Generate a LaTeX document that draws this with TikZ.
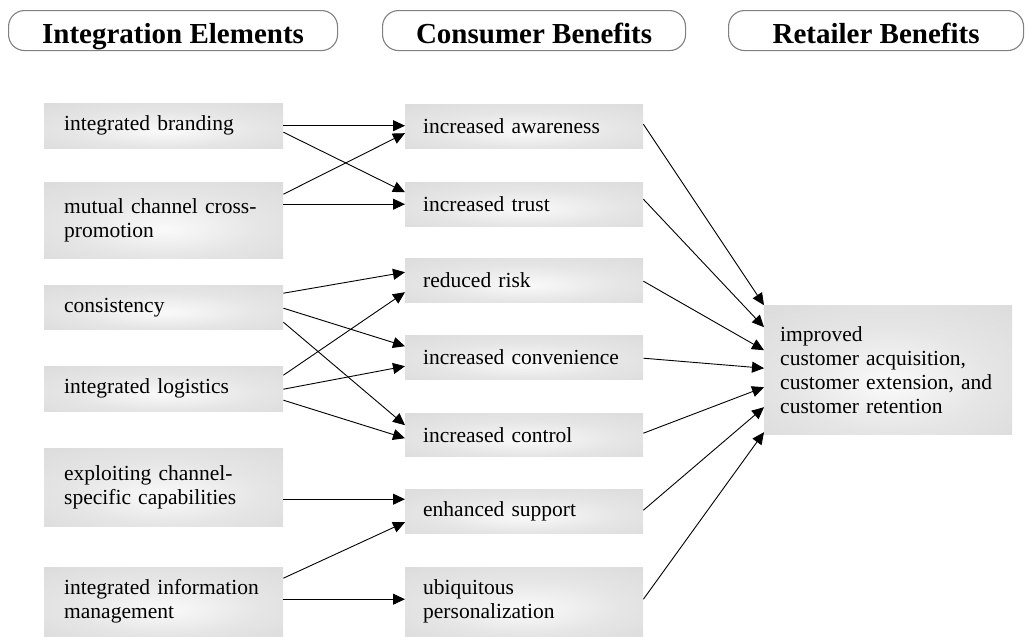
\documentclass[tikz,border=0pt]{standalone}
\usepackage{fontspec}
\setmainfont{Liberation Serif}
\usetikzlibrary{arrows.meta}
\pgfdeclareradialshading{boxglow}{\pgfpoint{0bp}{-6bp}}{color(0bp)=(black!2); color(20bp)=(black!10); color(38bp)=(black!14); color(50bp)=(black!14)}
\begin{document}
\begin{tikzpicture}[x=1pt,y=-1pt,
  pill/.style={draw=black!50, line width=1.1pt, rounded corners=16pt, minimum height=40pt, inner sep=0pt,
    anchor=north west, font=\fontsize{29pt}{34pt}\selectfont\bfseries, text height=28pt, text depth=2pt},
  box/.style={shading=boxglow, anchor=north west, inner ysep=0pt, align=left,
    font=\fontsize{21.5pt}{24pt}\selectfont},
  lbox/.style={box, inner xsep=20pt, text width=199pt},
  mbox/.style={box, inner xsep=18pt, text width=202pt},
  rbox/.style={box, inner xsep=16pt, text width=216pt},
  arr/.style={-{Triangle[length=12pt,width=11pt]}, line width=0.9pt, black}
]
\useasboundingbox (0,0) rectangle (1026,637);

% headers
\node[pill, minimum width=329pt] (H1) at (8,10) {Integration Elements};
\node[pill, minimum width=303pt] (H2) at (382,10) {Consumer Benefits};
\node[pill, minimum width=295pt] (H3) at (728,10) {Retailer Benefits};

% left column
\node[lbox, minimum height=45pt] (L1) at (44,103) {integrated branding};
\node[lbox, minimum height=76pt] (L2) at (44,182) {mutual channel cross-\\promotion};
\node[lbox, minimum height=44pt] (L3) at (44,285) {consistency};
\node[lbox, minimum height=45pt] (L4) at (44,366) {integrated logistics};
\node[lbox, minimum height=78pt] (L5) at (44,448) {exploiting channel-\\specific capabilities};
\node[lbox, minimum height=69pt] (L6) at (44,567) {integrated information\\management};

% middle column
\node[mbox, minimum height=44pt] (M1) at (405,104) {increased awareness};
\node[mbox, minimum height=44pt] (M2) at (405,182) {increased trust};
\node[mbox, minimum height=44pt] (M3) at (405,258) {reduced risk};
\node[mbox, minimum height=44pt] (M4) at (405,335) {increased convenience};
\node[mbox, minimum height=43pt] (M5) at (405,413) {increased control};
\node[mbox, minimum height=44pt] (M6) at (405,489) {enhanced support};
\node[mbox, minimum height=69pt] (M7) at (405,567) {ubiquitous\\personalization};

% right column
\node[rbox, minimum height=129pt] (R) at (764,305) {improved\\customer acquisition,\\customer extension, and\\customer retention};

% left -> middle
\draw[arr] (L1.east) -- (L1.east -| M1.west);
\draw[arr] ([yshift=-6.5pt]L1.east) -- ([yshift=12pt]M2.west);
\draw[arr] ([yshift=26pt]L2.east) -- ([yshift=-7pt]M1.west);
\draw[arr] ([yshift=16pt]L2.east) -- (M2.west);
\draw[arr] ([yshift=14pt]L3.east) -- ([yshift=8pt]M3.west);
\draw[arr] ([yshift=-1pt]L3.east) -- ([yshift=11pt]M4.west);
\draw[arr] ([yshift=-15pt]L3.east) -- ([yshift=9.5pt]M5.west);
\draw[arr] ([yshift=13.5pt]L4.east) -- ([yshift=-12pt]M3.west);
\draw[arr] ([yshift=-0.5pt]L4.east) -- ([yshift=-9pt]M4.west);
\draw[arr] ([yshift=-11.5pt]L4.east) -- ([yshift=-3.5pt]M5.west);
\draw[arr] ([yshift=-12pt]L5.east) -- ([yshift=12pt]M6.west);
\draw[arr] ([yshift=23.5pt]L6.east) -- ([yshift=-11pt]M6.west);
\draw[arr] ([yshift=2.5pt]L6.east) -- ([yshift=2.5pt]M7.west);

% middle -> right
\draw[arr] ([yshift=2pt]M1.east) -- ([yshift=64.5pt]R.west);
\draw[arr] ([yshift=5pt]M2.east) -- ([yshift=42.5pt]R.west);
\draw[arr] ([yshift=-1pt]M3.east) -- ([yshift=19.5pt]R.west);
\draw[arr] ([yshift=-1pt]M4.east) -- ([yshift=1.5pt]R.west);
\draw[arr] ([yshift=1.5pt]M5.east) -- ([yshift=-17.5pt]R.west);
\draw[arr] ([yshift=1pt]M6.east) -- ([yshift=-37.5pt]R.west);
\draw[arr] ([yshift=2.5pt]M7.east) -- ([yshift=-62.5pt]R.west);
\end{tikzpicture}
\end{document}
